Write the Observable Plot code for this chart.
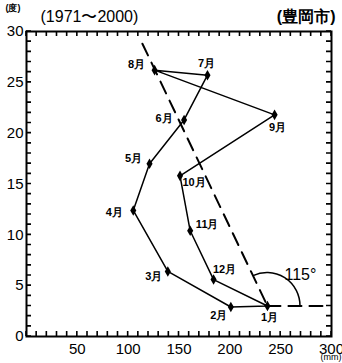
<!DOCTYPE html>
<html><head><meta charset="utf-8">
<script src="https://cdn.jsdelivr.net/npm/d3@7"></script>
<script src="https://cdn.jsdelivr.net/npm/@observablehq/plot@0.6"></script>
<style>
body{margin:0;background:#fff}
#chart svg{display:block}
</style>
</head><body><div id="chart"></div>
<script>
const months = ["1月","2月","3月","4月","5月","6月","7月","8月","9月","10月","11月","12月"];
const precip = [237,201,139,105,121,155,178,126,244,151,161,184];
const temp = [3.0,2.9,6.4,12.4,17.0,21.3,25.7,26.2,21.8,15.8,10.4,5.6];
const xTickLabels = [50,100,150,200,250,300];
const yTickLabels = [0,5,10,15,20,25,30];
const xMinorTicks = d3.range(0,301,10);
const yMinorTicks = d3.range(0,31,1);
const trendPrecip = [114, 237];
const trendTemp = [28.8, 3.0];
const baseEndPrecip = 295;
const angleDeg = 115;

// label placement (pixel offsets, style only)
const labelDx = [2,-12,-14,-19,-16,-20,-1,-18,3,14,17,11];
const labelDy = [11,8,5,2,-5,-1,-12,-6,13,7,-6,-10];

const pts = months.map((m,i)=>({m, precip:precip[i], temp:temp[i]}));
const loop = [...pts, pts[0]];
const trend = trendPrecip.map((p,i)=>({precip:p, temp:trendTemp[i]}));
const base = [{precip:precip[0], temp:temp[0]},{precip:baseEndPrecip, temp:temp[0]}];

const W = 342, H = 363;
const mL = 26, mR = 11, mT = 31, mB = 27;
const font = "'Liberation Sans Narrow','Liberation Sans',Arial,sans-serif";
const TL = 5;

const labelMarks = pts.map((p,i)=>Plot.text([p], {x:"precip", y:"temp", text:"m", dx:labelDx[i], dy:labelDy[i], fontSize:11, fontWeight:"bold", fill:"#000"}));

const plot = Plot.plot({
  width: W, height: H,
  marginLeft: mL, marginRight: mR, marginTop: mT, marginBottom: mB,
  x: {domain:[0,300], label:null},
  y: {domain:[0,30], label:null},
  style: {fontFamily: font, background:"#fff", overflow:"visible"},
  marks: [
    Plot.axisX({ticks: xTickLabels, tickSize:0, tickPadding: 7, fontSize: 15, fill:"#000", anchor:"bottom", label:null}),
    Plot.axisY({ticks: yTickLabels, tickSize:0, tickPadding: 3, fontSize: 15, fill:"#000", anchor:"left", label:null}),
    Plot.frame({stroke:"#000", strokeWidth:2}),
    Plot.line(trend, {x:"precip", y:"temp", stroke:"#000", strokeWidth:2, strokeDasharray:"13,8"}),
    Plot.line(base, {x:"precip", y:"temp", stroke:"#000", strokeWidth:2, strokeDasharray:"13,8"}),
    Plot.line(loop, {x:"precip", y:"temp", stroke:"#000", strokeWidth:1.5}),
    Plot.dot(pts, {x:"precip", y:"temp", symbol:"diamond", fill:"#000", r:3.2}),
    ...labelMarks,
    Plot.text([pts[0]], {x:"precip", y:"temp", text:()=>angleDeg+"°", dx:33, dy:-31, fontSize:16, fill:"#000"}),
    Plot.text(["(度)"], {frameAnchor:"top-left", dx:-21, dy:-27, fontSize:9, fontWeight:"bold", textAnchor:"start", fill:"#000"}),
    Plot.text(["(1971〜2000)"], {frameAnchor:"top-left", dx:14, dy:-21, fontSize:16, textAnchor:"start", fill:"#000"}),
    Plot.text(["(豊岡市)"], {frameAnchor:"top-right", dx:4, dy:-21, fontSize:16, fontWeight:"bold", textAnchor:"end", fill:"#000"}),
    Plot.text(["(mm)"], {frameAnchor:"bottom-right", dx:10, dy:23, fontSize:9, textAnchor:"end", fill:"#000"})
  ]
});

const sx = plot.scale("x"), sy = plot.scale("y");
const svg = d3.select(plot);
const x0 = sx.apply(0), x1 = sx.apply(300), y0 = sy.apply(0), y1 = sy.apply(30);

// inward ticks on all four sides, placed through the plot's scales
let tickPath = "";
xMinorTicks.forEach(v => {
  const px = sx.apply(v);
  tickPath += `M${px},${y0}V${y0-TL}M${px},${y1}V${y1+TL}`;
});
yMinorTicks.forEach(v => {
  const py = sy.apply(v);
  tickPath += `M${x0},${py}H${x0+TL}M${x1},${py}H${x1-TL}`;
});
svg.append("path").attr("d", tickPath).attr("fill","none").attr("stroke","#000").attr("stroke-width",1.6);

// angle arc
const cx = sx.apply(precip[0]), cy = sy.apply(temp[0]);
const r = 33;
const a = angleDeg * Math.PI/180;
svg.append("path")
  .attr("d", `M${cx + r},${cy} A${r},${r} 0 0 0 ${cx + r*Math.cos(a)},${cy - r*Math.sin(a)}`)
  .attr("fill","none").attr("stroke","#000").attr("stroke-width",1.5);

document.getElementById("chart").append(plot);
</script>
</body></html>
